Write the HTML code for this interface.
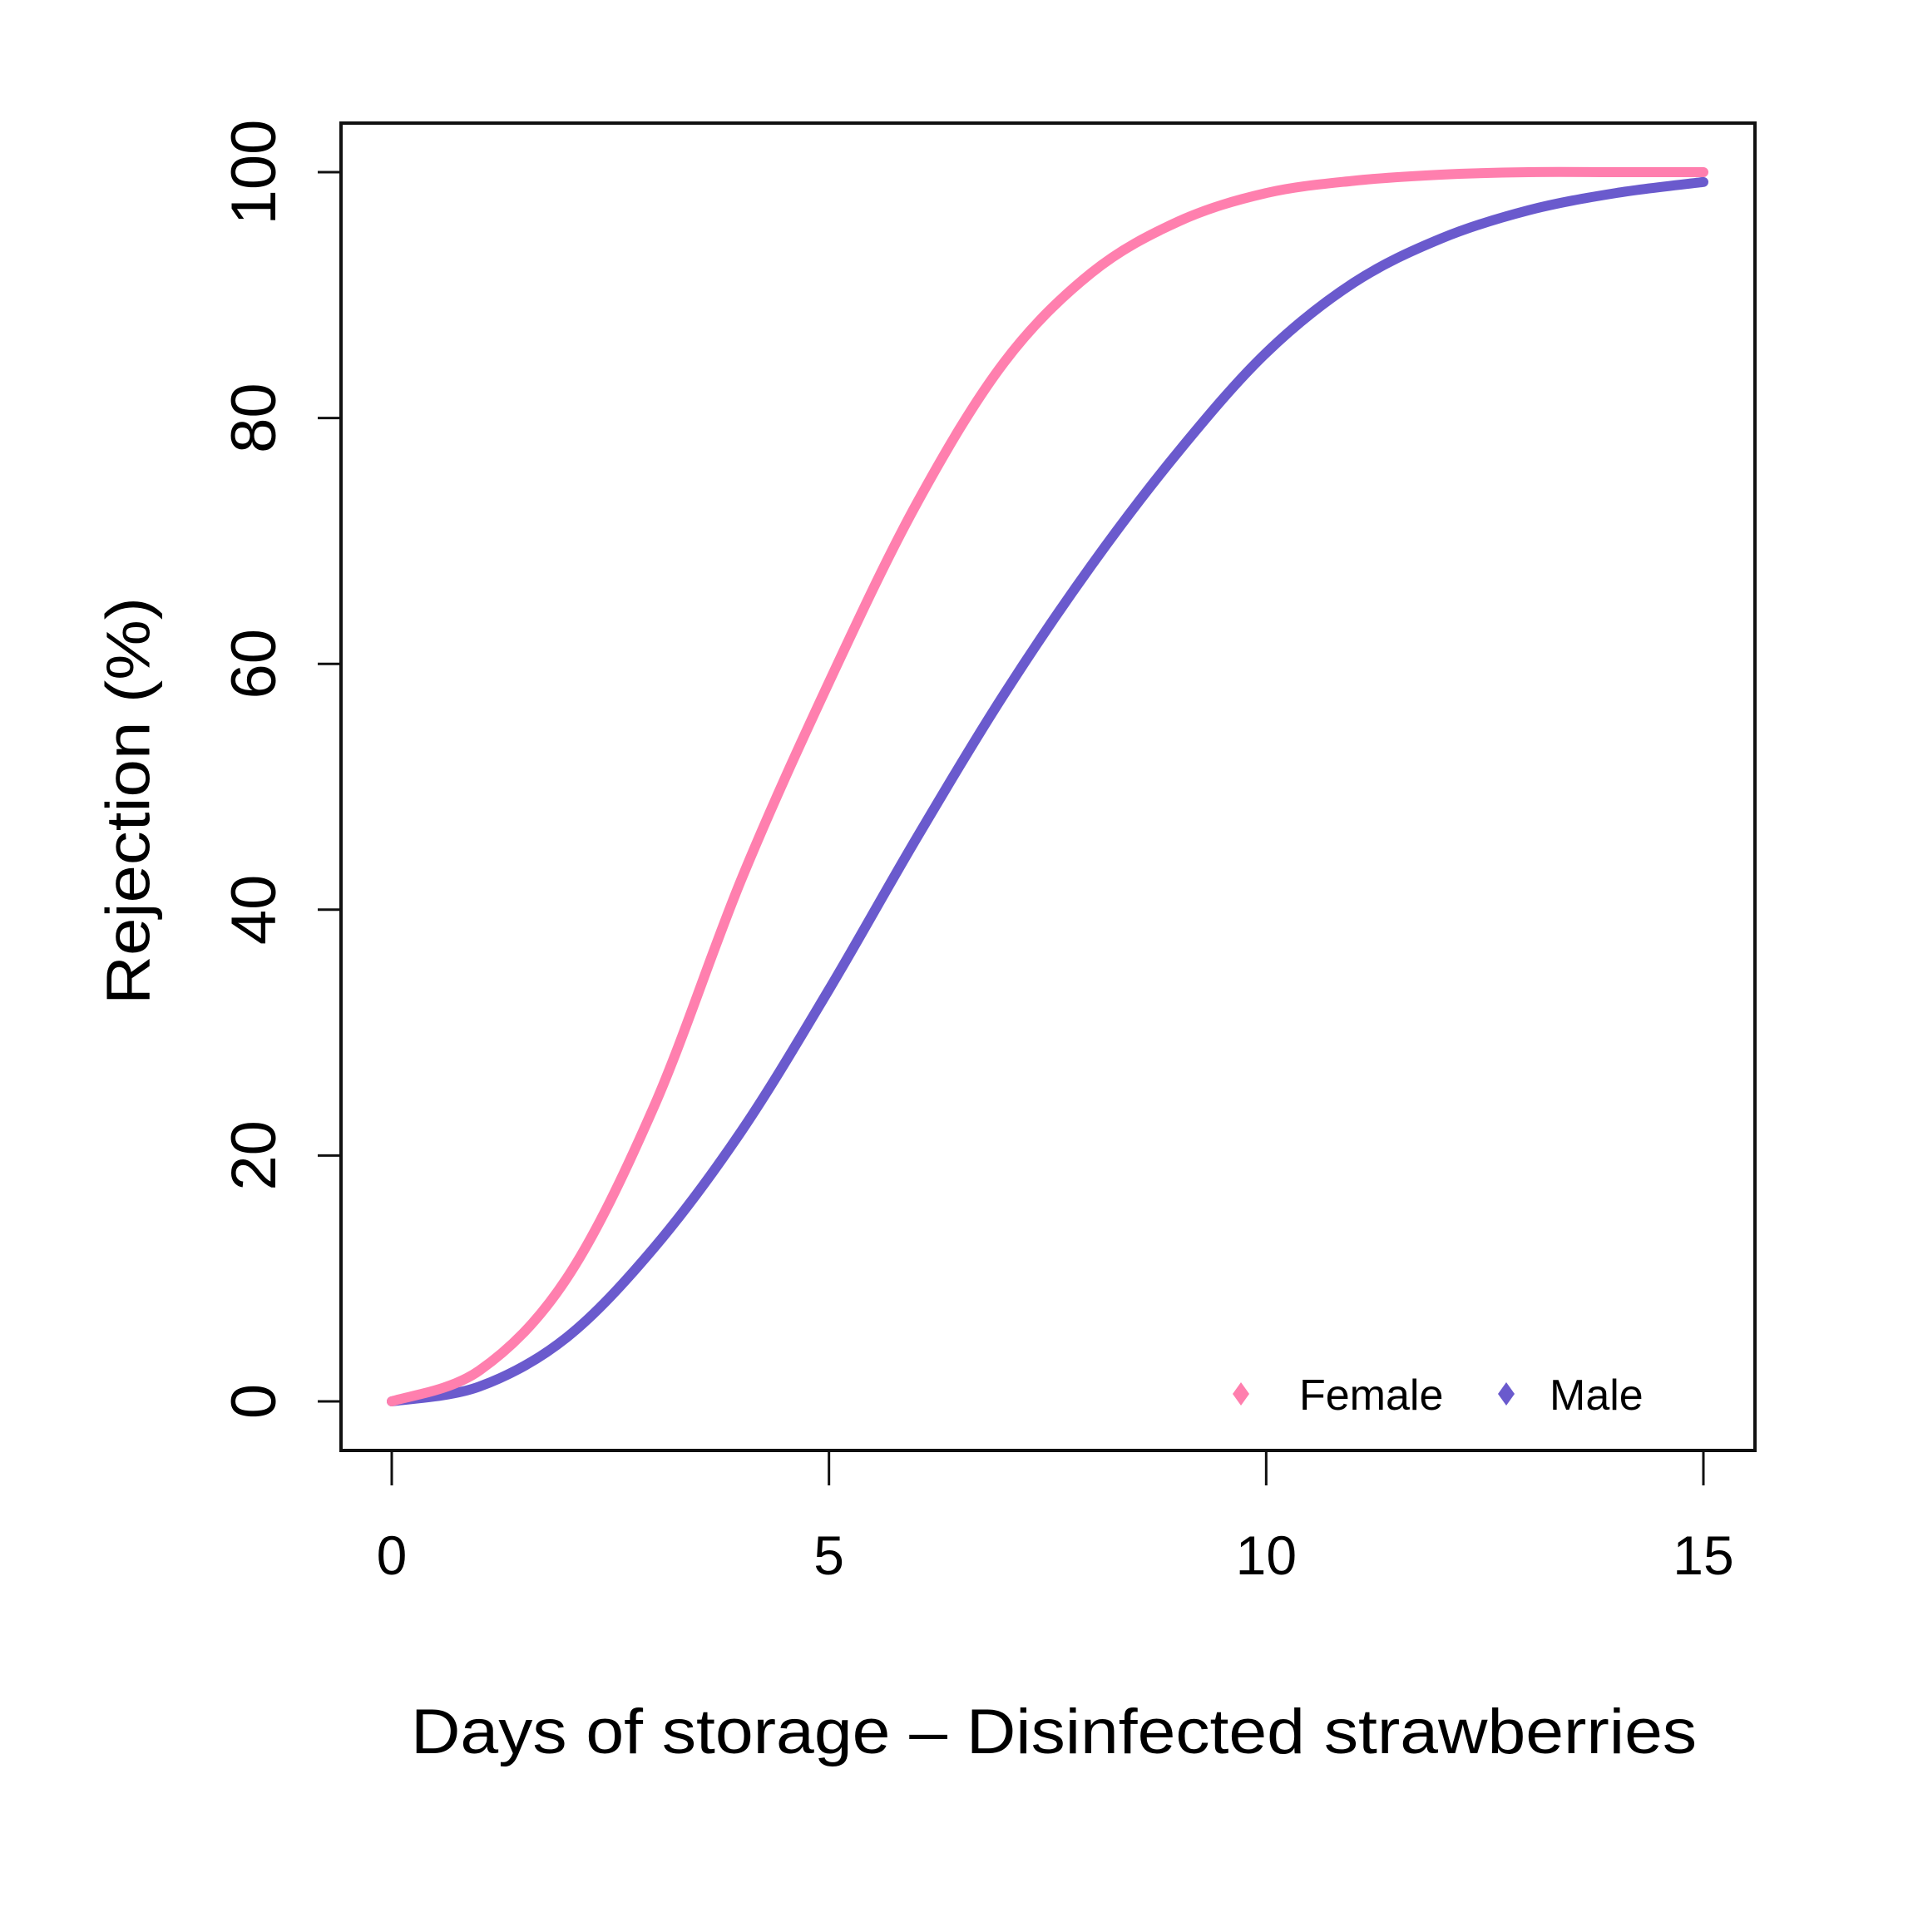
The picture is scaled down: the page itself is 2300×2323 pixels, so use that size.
<!DOCTYPE html>
<html><head><meta charset="utf-8"><style>
html,body{margin:0;padding:0;background:#fff;}
svg{display:block;font-family:"Liberation Sans",Arial,sans-serif;}
</style></head><body>
<svg id="chart" width="2300" height="2323" viewBox="0 0 2300 2323">
<rect x="410" y="148" width="1700" height="1596" fill="none" stroke="#111" stroke-width="4"/>
<g id="axes"></g>
<g id="series"></g>
<text x="160" y="963" transform="rotate(-90 160 963)" text-anchor="middle" dominant-baseline="middle" font-size="74" textLength="490" lengthAdjust="spacingAndGlyphs">Rejection (%)</text>
<text x="1267" y="2108" text-anchor="middle" font-size="76" textLength="1546" lengthAdjust="spacingAndGlyphs">Days of storage – Disinfected strawberries</text>
<g>
<path d="M1492 1662 L1502 1676 L1492 1690 L1482 1676 Z" fill="#ff7fae"/>
<text x="1562" y="1695" font-size="52">Female</text>
<path d="M1811 1662 L1821 1676 L1811 1690 L1801 1676 Z" fill="#6a5acd"/>
<text x="1863" y="1695" font-size="52">Male</text>
</g>
</svg>
<script>
const days = [0,1,2,3,4,5,6,7,8,9,10,11,12,13,14,15];
const female = [0,2.5,10,24,42.5,58.5,73,84.5,91.8,96,98.3,99.3,99.8,100,100,100];
const male = [0,1.2,5.2,12.5,22,33.5,45.8,57.5,68,77.3,85.3,91,94.6,96.9,98.3,99.2];
const xTicks = [0,5,10,15];
const yTicks = [0,20,40,60,80,100];
const NS='http://www.w3.org/2000/svg';
const X=v=>471+(2048-471)*v/15;
const Y=v=>1685-(1685-207)*v/100;
const axes=document.getElementById('axes');
function mk(tag,at,parent){const e=document.createElementNS(NS,tag);for(const k in at)e.setAttribute(k,at[k]);parent.appendChild(e);return e;}
xTicks.forEach(t=>{
  const l=mk('line',{x1:X(t),x2:X(t),y1:1744,y2:1786,stroke:'#111','stroke-width':3},axes);
  
  
  const s=mk('text',{x:X(t),y:1893,'text-anchor':'middle','font-size':66},axes);
  s.textContent=t;
  
  
});
yTicks.forEach(t=>{
  const l=mk('line',{x1:382,x2:410,y1:Y(t),y2:Y(t),stroke:'#111','stroke-width':3},axes);
  
  
  const s=mk('text',{x:311,y:Y(t),'text-anchor':'middle','dominant-baseline':'middle','font-size':76,transform:`rotate(-90 311 ${Y(t)})`},axes);
  s.textContent=t;
  
  
});
function path(vals){
  const p=days.map((d,i)=>[X(d),Y(vals[i])]);
  let d=`M${p[0][0]},${p[0][1]}`;
  for(let i=0;i<p.length-1;i++){
    const p0=p[Math.max(0,i-1)],p1=p[i],p2=p[i+1],p3=p[Math.min(p.length-1,i+2)];
    const c1=[p1[0]+(p2[0]-p0[0])/6,p1[1]+(p2[1]-p0[1])/6];
    const c2=[p2[0]-(p3[0]-p1[0])/6,p2[1]-(p3[1]-p1[1])/6];
    d+=` C${c1[0]},${c1[1]} ${c2[0]},${c2[1]} ${p2[0]},${p2[1]}`;
  }
  return d;
}
const g=document.getElementById('series');
const m=mk('path',{d:path(male),fill:'none',stroke:'#6a5acd','stroke-width':12,'stroke-linecap':'round'},g);


const f=mk('path',{d:path(female),fill:'none',stroke:'#ff7fae','stroke-width':12,'stroke-linecap':'round'},g);


</script>
</body></html>
